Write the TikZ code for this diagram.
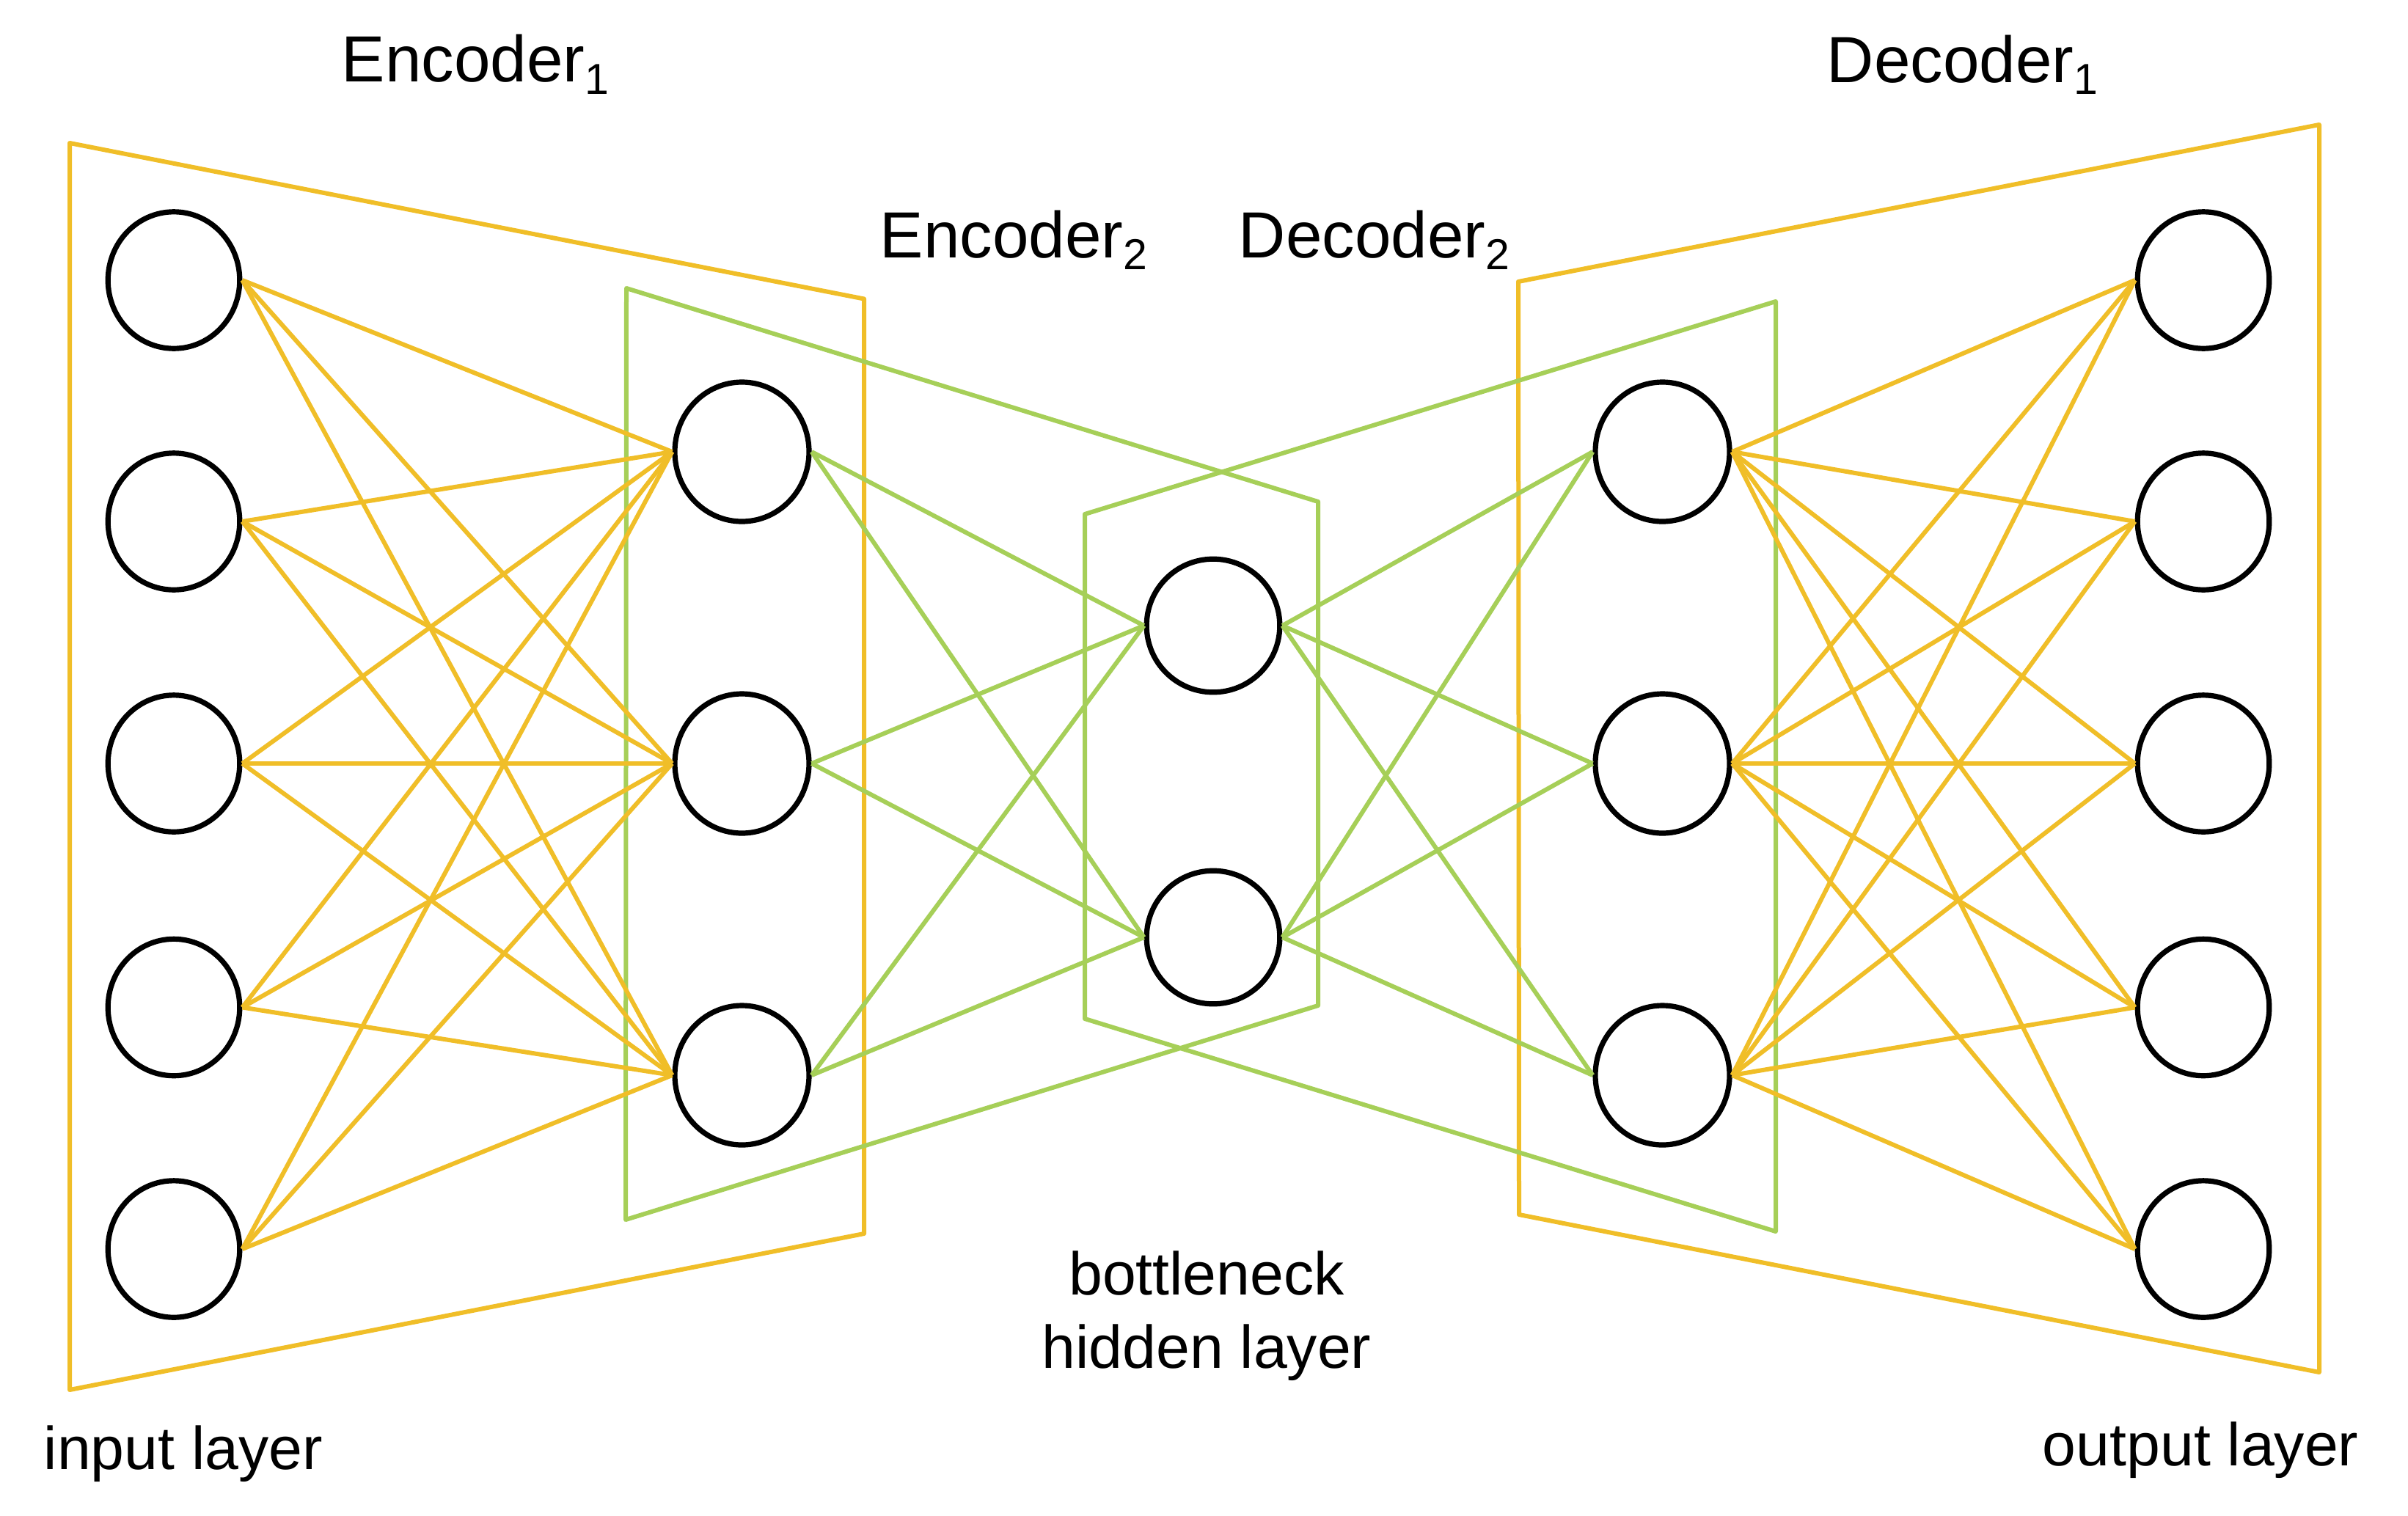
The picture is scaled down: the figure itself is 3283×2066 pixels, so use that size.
\documentclass[tikz,border=0pt]{standalone}
\usepackage{fontspec}
\setmainfont{Liberation Sans}
\usetikzlibrary{shapes.geometric}
\definecolor{ylw}{RGB}{240,190,40}
\definecolor{grn}{RGB}{166,207,88}
\newcommand\lsub[1]{\raisebox{-4.1pt}{\fontsize{14.75pt}{16pt}\selectfont #1}}
\begin{document}
\begin{tikzpicture}[x=0.25pt,y=-0.25pt,
  neuron/.style={ellipse,draw=black,fill=white,line width=1.8pt,inner sep=0pt,minimum width=44.9pt,minimum height=46.6pt},
  hid/.style={neuron,minimum width=45.75pt,minimum height=47.5pt},
  bot/.style={neuron,minimum width=45.4pt,minimum height=45.4pt},
  ylink/.style={draw=ylw,line width=1.5pt},
  glink/.style={draw=grn,line width=1.5pt},
  ybox/.style={draw=ylw,line width=1.5pt,line join=round},
  gbox/.style={draw=grn,line width=1.5pt,line join=round},
  biglbl/.style={font=\fontsize{22.25pt}{26pt}\selectfont,inner sep=0pt,anchor=base west},
  lbl/.style={font=\fontsize{20.6pt}{25pt}\selectfont,inner sep=0pt}
]
\fill[white] (0,0) rectangle (3283,2066);
\useasboundingbox (0,0) rectangle (3283,2066);

% boxes
\draw[ybox] (95,195) -- (1178,407.5) -- (1178,1682) -- (95,1895) -- cycle;
\draw[ybox] (2070,384) -- (3162,170) -- (3162,1871) -- (2071,1656) -- cycle;
\draw[gbox] (854,393) -- (1797,684) -- (1797,1371) -- (853,1663) -- cycle;
\draw[gbox] (1479,701) -- (2421,411) -- (2421,1679) -- (1479,1389) -- cycle;

% neurons
\foreach \i/\y in {1/382,2/711,3/1041,4/1373.5,5/1703}{
  \node[neuron] (in\i) at (237,\y) {};
  \node[neuron] (out\i) at (3004,\y) {};
}
\foreach \i/\y in {1/616,2/1041,3/1466}{
  \node[hid] (h\i) at (1011.5,\y) {};
  \node[hid] (d\i) at (2266.5,\y) {};
}
\node[bot] (b1) at (1654,853) {};
\node[bot] (b2) at (1654,1278) {};

% connectors
\foreach \i in {1,...,5}{
  \foreach \j in {1,2,3}{
    \draw[ylink] (in\i.east) -- (h\j.west);
    \draw[ylink] (d\j.east) -- (out\i.west);
  }
}
\foreach \j in {1,2,3}{
  \foreach \k in {1,2}{
    \draw[glink] (h\j.east) -- (b\k.west);
    \draw[glink] (b\k.east) -- (d\j.west);
  }
}

% labels
\node[biglbl] (enc1) at (465,111.6) {Encoder\lsub{1}};
\node[biglbl] (dec1) at (2490,112.3) {Decoder\lsub{1}};
\node[biglbl] (enc2) at (1199,351) {Encoder\lsub{2}};
\node[biglbl] (dec2) at (1688,351) {Decoder\lsub{2}};
\node[lbl,anchor=base west] (inl) at (59,2003.6) {input layer};
\node[lbl,anchor=base west] (outl) at (2784,1998.6) {output layer};
\node[lbl,anchor=base] (bn1) at (1645,1765.6) {bottleneck};
\node[lbl,anchor=base] (bn2) at (1645,1865.5) {hidden layer};
\end{tikzpicture}
\end{document}
